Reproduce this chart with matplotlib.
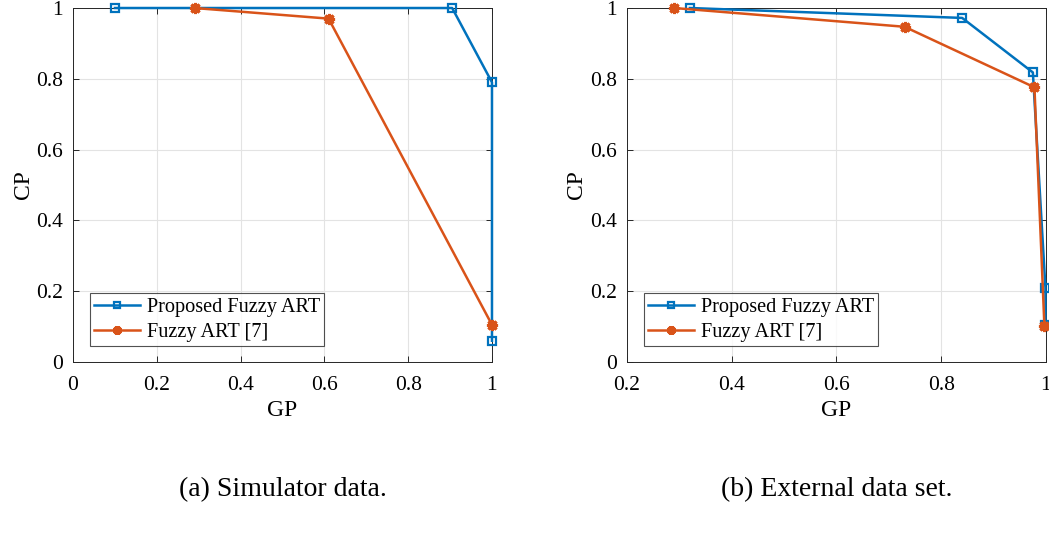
import matplotlib
matplotlib.use("Agg")
import matplotlib.pyplot as plt

plt.rcParams['font.family'] = ['Liberation Serif', 'DejaVu Serif']
plt.rcParams['mathtext.fontset'] = 'stix'

# Data (a) Simulator data
a_prop_gp = [0.10, 0.905, 1.0, 1.0]
a_prop_cp = [1.0, 1.0, 0.79, 0.06]
a_fart_gp = [0.29, 0.61, 1.0]
a_fart_cp = [1.0, 0.97, 0.105]

# Data (b) External data set
b_prop_gp = [0.32, 0.84, 0.975, 0.999, 0.999]
b_prop_cp = [1.0, 0.972, 0.818, 0.21, 0.105]
b_fart_gp = [0.29, 0.73, 0.978, 0.997]
b_fart_cp = [1.0, 0.947, 0.776, 0.103]

labels = ['Proposed Fuzzy ART', 'Fuzzy ART [7]']
captions = ['(a) Simulator data.', '(b) External data set.']
blue = '#0072BD'
orange = '#D95319'

fig = plt.figure(figsize=(10.49, 5.34), dpi=100)
ax1 = fig.add_axes([0.0696, 0.3221, 0.3994, 0.6629])
ax2 = fig.add_axes([0.5977, 0.3221, 0.3994, 0.6629])

def style(ax, xlim, xticks):
    ax.set_xlim(*xlim)
    ax.set_ylim(0, 1)
    ax.set_xticks(xticks)
    ax.set_xticklabels([('%g' % t) for t in xticks])
    ax.set_yticks([0, 0.2, 0.4, 0.6, 0.8, 1])
    ax.set_yticklabels(['0', '0.2', '0.4', '0.6', '0.8', '1'])
    ax.grid(True, color='#e3e3e3', linewidth=0.8)
    ax.set_axisbelow(True)
    ax.tick_params(direction='in', length=4, width=0.7, top=True, right=True,
                   labelsize=15.5, colors='#262626', labelcolor='black')
    ax.tick_params(axis='x', pad=10)
    ax.tick_params(axis='y', pad=7)
    for s in ax.spines.values():
        s.set_linewidth(0.7)
        s.set_color('#262626')
    ax.set_xlabel('GP', fontsize=17, labelpad=4)
    ax.set_ylabel('CP', fontsize=17, labelpad=2)

for ax, pg, pc, fg, fc, xlim, xt, cap in [
        (ax1, a_prop_gp, a_prop_cp, a_fart_gp, a_fart_cp, (0, 1), [0, 0.2, 0.4, 0.6, 0.8, 1], captions[0]),
        (ax2, b_prop_gp, b_prop_cp, b_fart_gp, b_fart_cp, (0.2, 1), [0.2, 0.4, 0.6, 0.8, 1], captions[1])]:
    ax.plot(pg, pc, color=blue, lw=1.8, marker='s', markersize=6,
            markerfacecolor='none', markeredgewidth=1.6, label=labels[0], clip_on=False, zorder=3)
    ax.plot(fg, fc, color=orange, lw=1.8, marker=(8, 2, 0), markersize=8,
            markeredgewidth=2.2, label=labels[1], clip_on=False, zorder=4)
    style(ax, xlim, xt)
    leg = ax.legend(loc='lower left', bbox_to_anchor=(0.04, 0.045), fontsize=14.6,
                    frameon=True, fancybox=False, handlelength=2.3, borderpad=0.2,
                    labelspacing=0.3, handletextpad=0.3, borderaxespad=0,
                    markerscale=0.8)
    leg.get_frame().set_edgecolor('#262626')
    leg.get_frame().set_linewidth(0.8)
    pos = ax.get_position()
    fig.text(pos.x0 + pos.width / 2, 1 - 490 / 534, cap, ha='center', va='center', fontsize=20)

fig.savefig('out.png', dpi=100)
